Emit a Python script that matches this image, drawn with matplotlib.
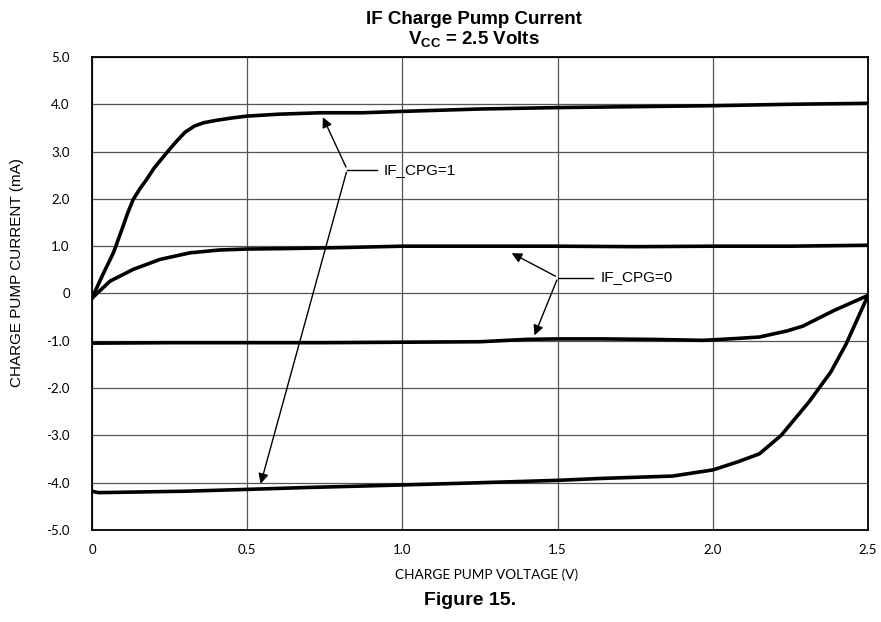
import matplotlib.pyplot as plt

plt.rcParams['mathtext.fontset'] = 'custom'
plt.rcParams['mathtext.rm'] = 'Liberation Sans'
plt.rcParams['mathtext.bf'] = 'Liberation Sans:bold'

# IF_CPG=1, source side
v_pos1 = [0, 0.035, 0.069, 0.1, 0.115, 0.133, 0.155, 0.176, 0.2, 0.24, 0.27, 0.3,
          0.33, 0.36, 0.4, 0.45, 0.5, 0.6, 0.735, 0.87, 1.0, 1.25, 1.5, 1.75, 2.0,
          2.25, 2.5]
i_pos1 = [-0.1, 0.4, 0.86, 1.42, 1.7, 1.99, 2.22, 2.41, 2.65, 2.97, 3.2, 3.41,
          3.54, 3.61, 3.66, 3.71, 3.75, 3.79, 3.82, 3.82, 3.85, 3.9, 3.93, 3.95, 3.97,
          4.0, 4.02]

# IF_CPG=0, source side
v_pos0 = [0, 0.058, 0.133, 0.219, 0.316, 0.412, 0.5, 0.627, 0.8, 1.0, 1.25, 1.5,
          1.75, 2.0, 2.25, 2.5]
i_pos0 = [-0.1, 0.26, 0.51, 0.72, 0.86, 0.92, 0.94, 0.95, 0.97, 1.0, 1.0, 1.0,
          0.99, 1.0, 1.0, 1.02]

# IF_CPG=0, sink side
v_neg0 = [0, 0.25, 0.5, 0.75, 1.0, 1.25, 1.4, 1.5, 1.64, 1.8, 1.97, 2.08, 2.15,
          2.24, 2.29, 2.39, 2.5]
i_neg0 = [-1.05, -1.04, -1.04, -1.04, -1.03, -1.02, -0.97, -0.96, -0.96, -0.97,
          -0.99, -0.95, -0.92, -0.79, -0.69, -0.36, -0.04]

# IF_CPG=1, sink side
v_neg1 = [0, 0.02, 0.3, 0.507, 0.7, 0.93, 1.2, 1.5, 1.64, 1.87, 2.0, 2.08, 2.15,
          2.22, 2.31, 2.38, 2.43, 2.5]
i_neg1 = [-4.18, -4.21, -4.18, -4.14, -4.1, -4.06, -4.01, -3.95, -3.91, -3.86,
          -3.73, -3.56, -3.39, -3.0, -2.29, -1.66, -1.06, -0.04]

x_ticks = [0, 0.5, 1.0, 1.5, 2.0, 2.5]
x_labels = ["0", "0.5", "1.0", "1.5", "2.0", "2.5"]
y_ticks = [-5, -4, -3, -2, -1, 0, 1, 2, 3, 4, 5]
y_labels = ["-5.0", "-4.0", "-3.0", "-2.0", "-1.0", "0", "1.0", "2.0", "3.0", "4.0", "5.0"]

fig = plt.figure(figsize=(8.81, 6.22), dpi=100)
ax = fig.add_axes([0.1044, 0.1479, 0.8809, 0.7605])

for v, i in [(v_pos1, i_pos1), (v_pos0, i_pos0), (v_neg0, i_neg0), (v_neg1, i_neg1)]:
    ax.plot(v, i, color="black", lw=2.6, solid_joinstyle="round", zorder=3)

ax.set_xlim(0, 2.5)
ax.set_ylim(-5, 5)
ax.set_xticks(x_ticks)
ax.set_xticklabels(x_labels, family="Lato", fontsize=9.5)
ax.set_yticks(y_ticks)
ax.set_yticklabels(y_labels, family="Lato", fontsize=9.5)
ax.tick_params(length=0)
ax.tick_params(axis="y", pad=16)
ax.tick_params(axis="x", pad=10)
ax.grid(True, color="#555555", lw=0.9)
for s in ax.spines.values():
    s.set_linewidth(1.3)
    s.set_color("black")

ax.set_ylabel("CHARGE PUMP CURRENT (mA)", family="Liberation Sans", fontsize=11)
ax.yaxis.set_label_coords(-0.088, 0.545)

# callouts
arrow = dict(arrowstyle="-|>", color="black", lw=1.0, mutation_scale=15)
ax.annotate("", xy=(0.74, 3.78), xytext=(0.822, 2.62), arrowprops=arrow)
ax.annotate("", xy=(0.541, -4.08), xytext=(0.822, 2.62), arrowprops=arrow)
ax.plot([0.822, 0.917], [2.62, 2.62], color="black", lw=1.0)
ax.text(0.94, 2.62, "IF_CPG=1", family="Liberation Sans", fontsize=11, va="center")

ax.annotate("", xy=(1.344, 0.88), xytext=(1.501, 0.338), arrowprops=arrow)
ax.annotate("", xy=(1.422, -0.94), xytext=(1.501, 0.338), arrowprops=arrow)
ax.plot([1.501, 1.613], [0.338, 0.338], color="black", lw=1.0)
ax.text(1.64, 0.338, "IF_CPG=0", family="Liberation Sans", fontsize=11, va="center")

fig.text(0.538, 0.9615, "IF Charge Pump Current", ha="center", va="baseline",
         family="Liberation Sans", fontweight="bold", fontsize=13.5)
fig.text(0.538, 0.929, r"$\mathbf{V_{CC}}$ = 2.5 Volts", ha="center", va="baseline",
         family="Liberation Sans", fontweight="bold", fontsize=13.5)

fig.text(0.552, 0.076, "CHARGE PUMP VOLTAGE (V)", ha="center", va="center",
         family="Lato", fontsize=9.8)
fig.text(0.534, 0.035, "Figure 15.", ha="center", va="center",
         family="Liberation Sans", fontweight="bold", fontsize=14)

fig.savefig("out.png", dpi=100)
